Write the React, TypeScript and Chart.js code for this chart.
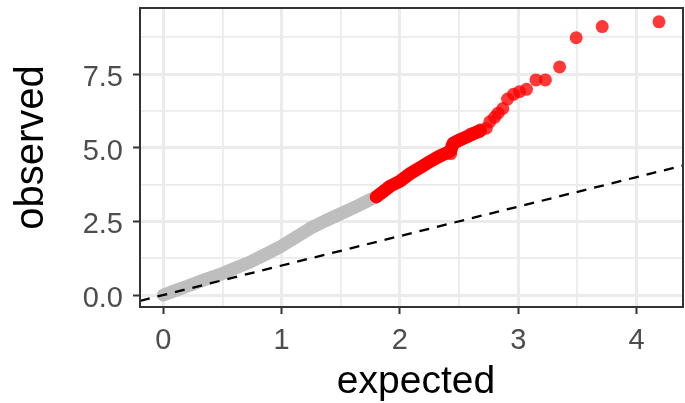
import React, { useEffect, useRef } from 'react';
import { Chart, registerables } from 'chart.js';

Chart.register(...registerables);

// Axis ranges (ggplot expanded limits)
const X_MIN = -0.197;
const X_MAX = 4.393;
const Y_MIN = -0.407;
const Y_MAX = 9.74;

// Tick labels
const xTickValues = [0, 1, 2, 3, 4];
const xTickLabels = ['0', '1', '2', '3', '4'];
const yTickValues = [0, 2.5, 5, 7.5];
const yTickLabels = ['0.0', '2.5', '5.0', '7.5'];

const xTitle = 'expected';
const yTitle = 'observed';

// Dense grey (non-significant) part of the QQ curve
const grayExpected = [0, 0.1, 0.23, 0.35, 0.48, 0.6, 0.73, 0.86, 0.99, 1.12, 1.24, 1.37, 1.49, 1.62, 1.74, 1.8];
const grayObserved = [0.0, 0.15, 0.34, 0.52, 0.7, 0.9, 1.11, 1.37, 1.64, 1.96, 2.26, 2.52, 2.74, 2.98, 3.22, 3.33];

// Dense red part of the curve
const redBandExpected = [1.8, 1.92, 2.0, 2.09, 2.17, 2.25, 2.33, 2.41, 2.43, 2.45, 2.5, 2.56, 2.62, 2.68];
const redBandObserved = [3.33, 3.7, 3.86, 4.13, 4.32, 4.52, 4.7, 4.85, 4.9, 5.14, 5.25, 5.36, 5.47, 5.57];

// Individual red points (upper tail)
const redExpected = [2.43, 2.44, 2.45, 2.48, 2.51, 2.54, 2.57, 2.6, 2.63, 2.66, 2.68, 2.73, 2.76, 2.8, 2.83, 2.87, 2.91, 2.96, 3.01, 3.07, 3.15, 3.23, 3.35, 3.49, 3.71, 4.19];
const redObserved = [4.8, 5.05, 5.15, 5.22, 5.28, 5.33, 5.38, 5.46, 5.5, 5.55, 5.6, 5.66, 5.88, 6.03, 6.17, 6.33, 6.65, 6.81, 6.9, 6.98, 7.3, 7.3, 7.74, 8.73, 9.11, 9.27];

const FONT = "'Liberation Sans', Arial, Helvetica, sans-serif";

const zip = (xs: number[], ys: number[]) => xs.map((x, i) => ({ x, y: ys[i] }));

const near = (v: number, list: number[]) => list.findIndex((t) => Math.abs(t - v) < 1e-6);

const panelBorder = {
  id: 'panelBorder',
  afterDatasetsDraw(chart: any) {
    const { ctx, chartArea: a } = chart;
    ctx.save();
    ctx.strokeStyle = '#333333';
    ctx.lineWidth = 2;
    ctx.strokeRect(a.left, a.top, a.right - a.left, a.bottom - a.top);
    ctx.restore();
  },
};

const axisTitles = {
  id: 'axisTitles',
  afterDraw(chart: any) {
    const { ctx, chartArea: a } = chart;
    ctx.save();
    ctx.fillStyle = '#000000';
    ctx.textAlign = 'center';
    ctx.textBaseline = 'alphabetic';
    ctx.font = `39px ${FONT}`;
    ctx.fillText(xTitle, (a.left + a.right) / 2 + 4.5, a.bottom + 86);
    ctx.font = `40px ${FONT}`;
    ctx.translate(a.left - 97, (a.top + a.bottom) / 2 - 10);
    ctx.rotate(-Math.PI / 2);
    ctx.fillText(yTitle, 0, 0);
    ctx.restore();
  },
};

export default function App() {
  const ref = useRef<HTMLCanvasElement | null>(null);

  useEffect(() => {
    if (!ref.current) return;
    const chart = new Chart(ref.current, {
      type: 'scatter',
      data: {
        datasets: [
          {
            type: 'line',
            data: [
              { x: X_MIN, y: X_MIN },
              { x: X_MAX, y: X_MAX },
            ],
            borderColor: '#000000',
            borderWidth: 2.3,
            borderDash: [10, 8],
            pointRadius: 0,
            fill: false,
            order: 0,
          } as any,
          {
            data: zip(redExpected, redObserved),
            backgroundColor: 'rgba(255,0,0,0.78)',
            borderWidth: 0,
            pointRadius: 6.5,
            order: 1,
          },
          {
            type: 'line',
            data: zip(redBandExpected, redBandObserved),
            borderColor: '#FF0000',
            borderWidth: 13,
            borderCapStyle: 'round',
            borderJoinStyle: 'round',
            pointRadius: 0,
            fill: false,
            tension: 0,
            order: 2,
          } as any,
          {
            type: 'line',
            data: zip(grayExpected, grayObserved),
            borderColor: '#BEBEBE',
            borderWidth: 13,
            borderCapStyle: 'round',
            borderJoinStyle: 'round',
            pointRadius: 0,
            fill: false,
            tension: 0,
            order: 3,
          } as any,
        ],
      },
      options: {
        animation: false,
        responsive: false,
        devicePixelRatio: 1,
        layout: { autoPadding: false, padding: { top: 8, right: 2, bottom: 0, left: 0 } },
        plugins: { legend: { display: false }, tooltip: { enabled: false } },
        scales: {
          x: {
            type: 'linear',
            min: X_MIN,
            max: X_MAX,
            border: { display: false },
            grid: {
              color: '#EBEBEB',
              lineWidth: (c: any) => (near(c.tick.value, xTickValues) >= 0 ? 3 : 1.8),
              tickLength: 7,
              tickWidth: 2,
              tickColor: (c: any) => (near(c.tick.value, xTickValues) >= 0 ? '#333333' : 'rgba(0,0,0,0)'),
            },
            ticks: {
              stepSize: 0.5,
              includeBounds: false,
              autoSkip: false,
              maxRotation: 0,
              padding: 12,
              color: '#4D4D4D',
              font: { family: FONT, size: 29, lineHeight: 1 },
              callback: (v: any) => {
                const i = near(Number(v), xTickValues);
                return i >= 0 ? xTickLabels[i] : '';
              },
            },
            title: { display: false },
            afterFit: (s: any) => {
              s.height = 96;
              s.paddingLeft = 0;
              s.paddingRight = 0;
            },
          },
          y: {
            type: 'linear',
            min: Y_MIN,
            max: Y_MAX,
            border: { display: false },
            grid: {
              color: '#EBEBEB',
              lineWidth: (c: any) => (near(c.tick.value, yTickValues) >= 0 ? 3 : 1.8),
              tickLength: 7,
              tickWidth: 2,
              tickColor: (c: any) => (near(c.tick.value, yTickValues) >= 0 ? '#333333' : 'rgba(0,0,0,0)'),
            },
            ticks: {
              stepSize: 1.25,
              includeBounds: false,
              autoSkip: false,
              padding: 10,
              labelOffset: 4,
              color: '#4D4D4D',
              font: { family: FONT, size: 29, lineHeight: 1 },
              callback: (v: any) => {
                const i = near(Number(v), yTickValues);
                return i >= 0 ? yTickLabels[i] : '';
              },
            },
            title: { display: false },
            afterFit: (s: any) => {
              s.width = 140;
              s.paddingTop = 0;
              s.paddingBottom = 0;
            },
          },
        },
      },
      plugins: [panelBorder, axisTitles],
    } as any);
    return () => chart.destroy();
  }, []);

  return (
    <div style={{ position: 'absolute', left: 0, top: 0, width: 685, height: 403, background: '#ffffff' }}>
      <canvas ref={ref} width={685} height={403} />
    </div>
  );
}
